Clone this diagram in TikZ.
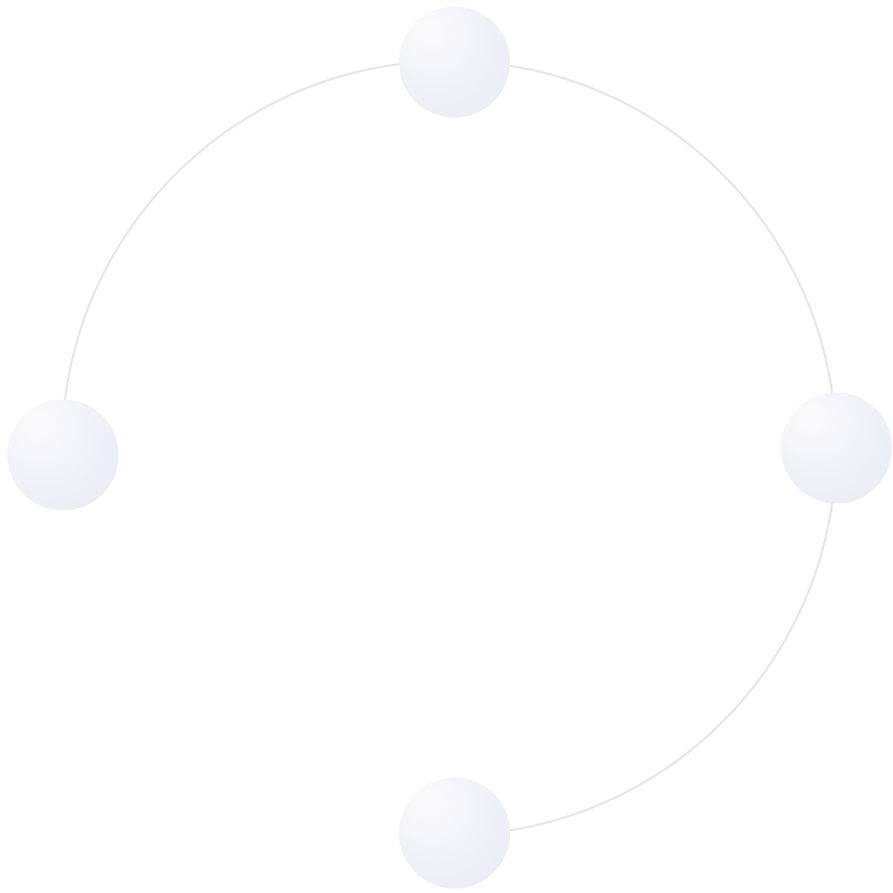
\documentclass[tikz,border=0pt]{standalone}
\usetikzlibrary{calc}
\definecolor{sphHi}{HTML}{F9F9FC}
\definecolor{sphMid}{HTML}{E9EBF4}
\definecolor{sphLo}{HTML}{D8DCEC}
\definecolor{ringgray}{HTML}{E6E6E6}
\pgfdeclareradialshading{spheregrad}{\pgfpoint{-12.5bp}{15bp}}{color(0bp)=(sphHi); color(5bp)=(sphHi); color(40bp)=(sphMid); color(68bp)=(sphLo); color(80bp)=(sphLo)}
\tikzset{
  ball/.style={circle, minimum size=111pt, inner sep=0pt, draw=none, shading=spheregrad},
  ring/.style={draw=ringgray, line width=2pt}
}
\begin{document}
\begin{tikzpicture}[x=1pt, y=-1pt]
  \useasboundingbox[fill=white] (0,0) rectangle (893,892);
  \coordinate (c) at (449,448);
  \draw[ring] (c) ++(180:387) arc[start angle=180, end angle=450, radius=387];
  \node[ball] (top) at (454.5,62) {};
  \node[ball] (left) at (63,455) {};
  \node[ball] (right) at (836.5,448) {};
  \node[ball] (bottom) at (454.5,833) {};
\end{tikzpicture}
\end{document}
